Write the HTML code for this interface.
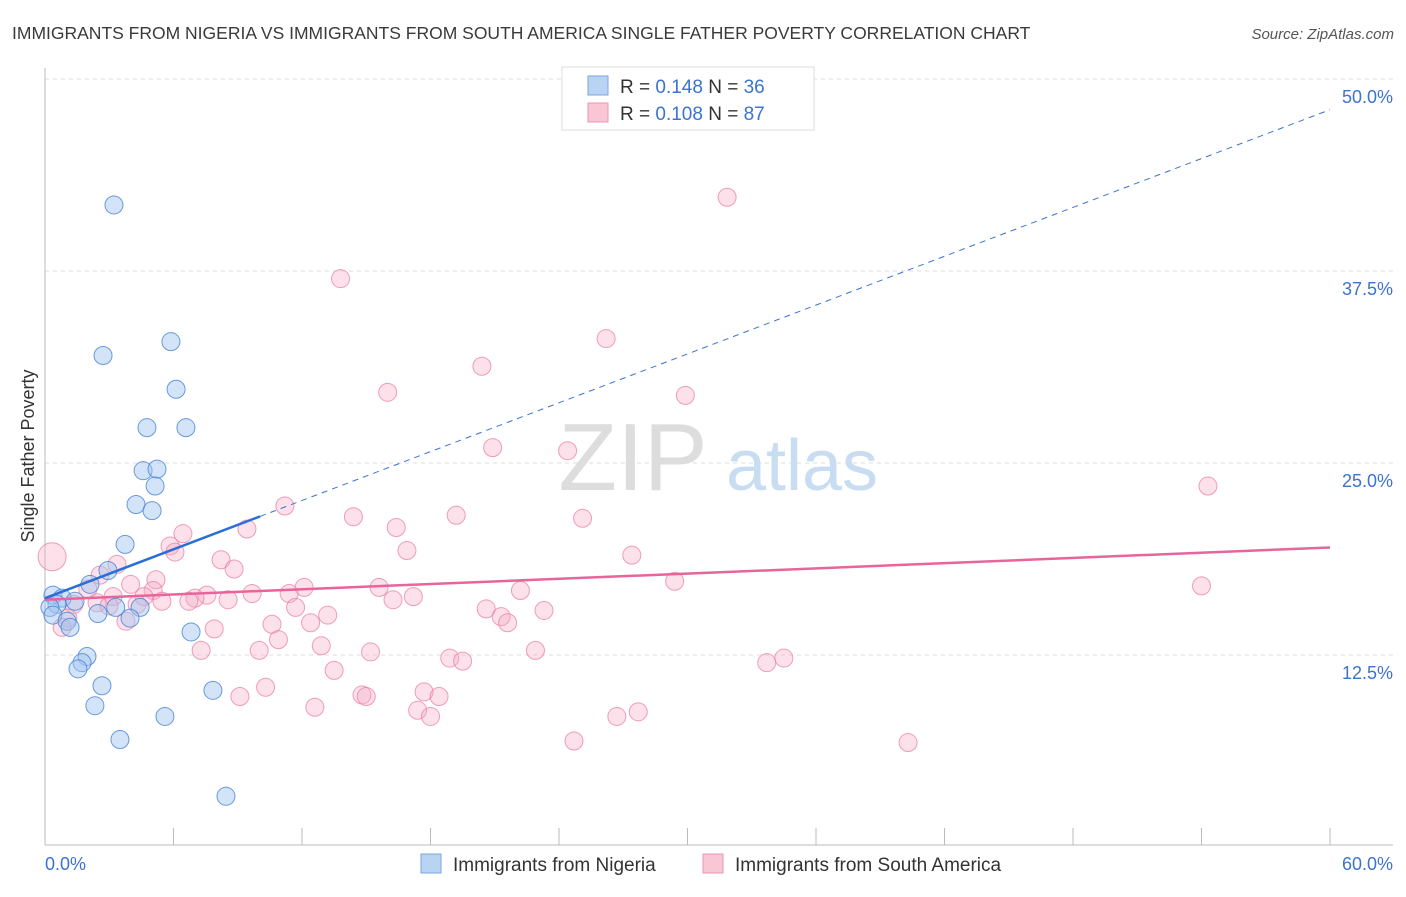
<!DOCTYPE html>
<html><head><meta charset="utf-8"><style>
body{margin:0;background:#fff;font-family:"Liberation Sans",sans-serif;}
svg text{font-family:"Liberation Sans",sans-serif;}
</style></head><body>
<svg width="1406" height="892" viewBox="0 0 1406 892">
<text x="12" y="39" font-size="17.5" fill="#3a3a3a">IMMIGRANTS FROM NIGERIA VS IMMIGRANTS FROM SOUTH AMERICA SINGLE FATHER POVERTY CORRELATION CHART</text>
<text x="1394" y="39" font-size="15" fill="#555" font-style="italic" text-anchor="end">Source: ZipAtlas.com</text>
<g><text x="633" y="490" font-size="96" font-family="Liberation Serif" fill="#ddd" text-anchor="middle">ZIP</text><text x="802" y="490" font-size="72" fill="#c8dcf2" text-anchor="middle">atlas</text></g>
<g id="grid"></g><g id="axes"></g><g id="marks"></g>
<text transform="translate(34,456) rotate(-90)" font-size="18" fill="#333" text-anchor="middle">Single Father Poverty</text>
<g>
<rect x="562" y="67" width="252" height="63" fill="#fff" stroke="#ddd"/>
<rect x="588" y="76" width="20" height="19" fill="#b9d3f3" stroke="#7aa5e0"/>
<rect x="588" y="103" width="20" height="19" fill="#f9c6d6" stroke="#ec97b3"/>
<text x="620" y="93" font-size="19" fill="#333">R = <tspan fill="#3b73d1">0.148</tspan>   N = <tspan fill="#3b73d1">36</tspan></text>
<text x="620" y="120" font-size="19" fill="#333">R = <tspan fill="#3b73d1">0.108</tspan>   N = <tspan fill="#3b73d1">87</tspan></text>
</g>
<g>
<rect x="421" y="854" width="20" height="19" fill="#b9d3f3" stroke="#7aa5e0"/>
<text x="453" y="871" font-size="19" fill="#333">Immigrants from Nigeria</text>
<rect x="703" y="854" width="20" height="19" fill="#f9c6d6" stroke="#ec97b3"/>
<text x="735" y="871" font-size="19" fill="#333">Immigrants from South America</text>
</g>
</svg>
<script>
const yTicks=[12.5,25,37.5,50];
const yTickLabels=["12.5%","25.0%","37.5%","50.0%"];
const xTickLabels=["0.0%","60.0%"];
const nigX=[3.22,2.71,5.88,6.12,4.76,6.58,4.58,5.23,5.14,4.25,5.0,3.74,2.94,2.1,0.37,0.8,1.4,0.56,0.23,3.3,4.44,2.47,0.37,1.03,1.17,3.97,6.82,1.96,1.73,1.54,2.66,7.84,2.33,5.6,3.5,8.45];
const nigY=[41.8,32.0,32.9,29.8,27.3,27.3,24.5,24.6,23.5,22.3,21.9,19.7,18.0,17.1,16.4,16.2,16.0,15.8,15.6,15.6,15.6,15.2,15.1,14.7,14.3,14.9,14.0,12.4,12.0,11.6,10.5,10.2,9.2,8.5,7.0,3.3];
const saX=[0.33,31.85,13.8,26.2,20.4,16.0,29.9,20.9,24.4,54.3,11.2,14.4,19.2,25.1,16.4,9.43,6.44,5.84,6.07,16.9,27.4,8.22,3.36,8.83,2.57,5.18,4.0,29.4,54.0,2.0,12.1,15.6,5.05,22.2,11.4,7.56,9.67,17.2,3.18,4.62,7.0,8.55,5.46,6.72,16.25,2.43,1.35,2.99,4.3,11.7,20.6,23.3,13.2,21.3,1.07,12.4,3.78,21.6,10.6,7.9,0.8,10.9,12.9,7.29,10.0,15.2,22.9,18.9,19.5,34.5,33.7,13.5,10.3,9.1,14.8,15.0,17.7,18.4,12.6,17.4,18.0,27.7,26.7,24.7,40.3];
const saY=[18.9,42.3,37.0,33.1,31.3,29.6,29.4,26.0,25.8,23.5,22.2,21.5,21.6,21.4,20.8,20.7,20.4,19.6,19.2,19.3,19.0,18.7,18.4,18.1,17.7,17.4,17.1,17.3,17.0,16.8,16.9,16.9,16.7,16.7,16.5,16.4,16.5,16.3,16.3,16.3,16.2,16.1,16.0,16.0,16.1,15.9,15.8,15.7,15.8,15.6,15.5,15.4,15.1,15.0,14.9,14.6,14.7,14.6,14.5,14.2,14.3,13.5,13.1,12.8,12.8,12.7,12.8,12.3,12.1,12.3,12.0,11.5,10.4,9.8,9.9,9.8,10.1,9.8,9.1,8.9,8.5,8.8,8.5,6.9,6.8];
const saR=[14];
const nigLine=[16.2,0.53,10.04];
const saLine=[16.1,19.5];
const NS="http://www.w3.org/2000/svg";
const X=v=>45+v/60*1285, Y=v=>847-v/12.5*192;
function mk(t,a,p){const e=document.createElementNS(NS,t);for(const k in a)e.setAttribute(k,a[k]);p.appendChild(e);return e;}
const grid=document.getElementById('grid'),axes=document.getElementById('axes'),marks=document.getElementById('marks');
yTicks.forEach((v,i)=>{
 const l=mk('line',{x1:45,x2:1393,y1:Y(v),y2:Y(v),stroke:'#ddd','stroke-dasharray':'4,4'},grid);
 
 
 const t=mk('text',{x:1393,y:Y(v)+24,'font-size':18,fill:'#3b73d1','text-anchor':'end'},axes);t.textContent=yTickLabels[i];
 
 
});
let a=mk('line',{x1:45,x2:45,y1:68,y2:845,stroke:'#bbb'},axes);


a=mk('line',{x1:45,x2:1393,y1:845,y2:845,stroke:'#bbb'},axes);


for(let i=0;i<=10;i++){const tk=mk('line',{x1:X(i*6),x2:X(i*6),y1:828,y2:845,stroke:'#bbb'},axes);
 
 }
let t=mk('text',{x:45,y:870,'font-size':18,fill:'#3b73d1'},axes);t.textContent=xTickLabels[0];


t=mk('text',{x:1393,y:870,'font-size':18,fill:'#3b73d1','text-anchor':'end'},axes);t.textContent=xTickLabels[1];


saX.forEach((x,i)=>{const c=mk('circle',{cx:X(x),cy:Y(saY[i]),r:saR[i]||9,fill:'rgba(246,170,195,0.35)',stroke:'rgba(232,120,160,0.7)','stroke-width':1},marks);
 
 });
nigX.forEach((x,i)=>{const c=mk('circle',{cx:X(x),cy:Y(nigY[i]),r:9,fill:'rgba(160,195,240,0.45)',stroke:'rgba(70,130,215,0.8)','stroke-width':1},marks);
 
 });
let ln=mk('line',{x1:X(0),y1:Y(saLine[0]),x2:X(60),y2:Y(saLine[1]),stroke:'#e8649a','stroke-width':2.5},marks);


const ny=x=>nigLine[0]+nigLine[1]*x;
ln=mk('line',{x1:X(nigLine[2]),y1:Y(ny(nigLine[2])),x2:X(60),y2:Y(ny(60)),stroke:'#3b73d1','stroke-width':1,'stroke-dasharray':'6,5'},marks);


ln=mk('line',{x1:X(0),y1:Y(ny(0)),x2:X(nigLine[2]),y2:Y(ny(nigLine[2])),stroke:'#2a6fd6','stroke-width':2.5},marks);


</script>
</body></html>
